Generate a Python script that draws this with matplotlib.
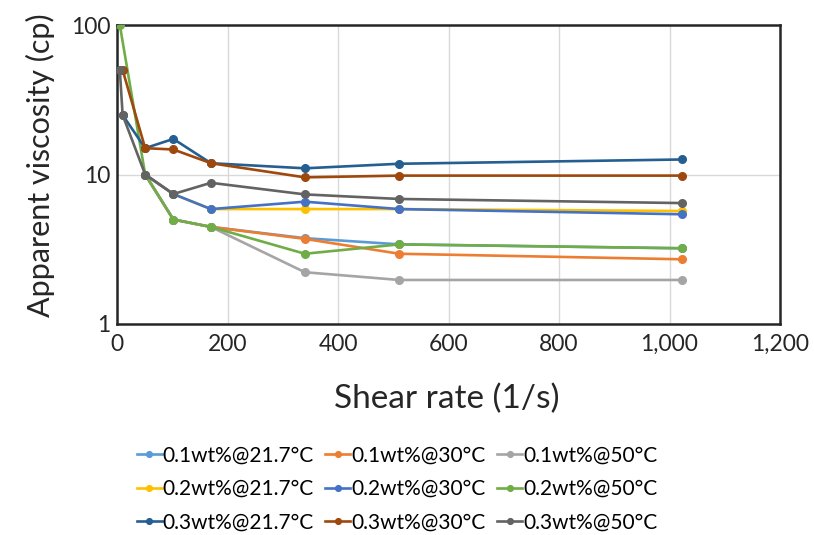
import matplotlib
matplotlib.use("Agg")
import matplotlib.pyplot as plt
from matplotlib.ticker import FuncFormatter, FixedLocator, NullLocator

plt.rcParams['font.family'] = ['Lato', 'DejaVu Sans']

# Shear rates (1/s) and apparent viscosities (cp); None = no point
shear_rates = [5.1, 10.2, 51, 102, 170, 340, 511, 1022]

labels = ["0.1wt%@21.7°C", "0.1wt%@30°C", "0.1wt%@50°C",
          "0.2wt%@21.7°C", "0.2wt%@30°C", "0.2wt%@50°C",
          "0.3wt%@21.7°C", "0.3wt%@30°C", "0.3wt%@50°C"]

visc_01_217 = [None, None, 10.0, 5.0, 4.46, 3.75, 3.41, 3.21]
visc_01_30 = [None, None, 10.0, 5.0, 4.46, 3.71, 2.95, 2.71]
visc_01_50 = [None, None, 10.0, 5.0, 4.46, 2.22, 1.97, 1.97]
visc_02_217 = [None, None, 10.0, 7.4, 5.87, 5.87, 5.87, 5.70]
visc_02_30 = [None, None, 10.0, 7.4, 5.87, 6.58, 5.87, 5.42]
visc_02_50 = [100.0, None, 10.0, 5.0, 4.46, 2.95, 3.41, 3.21]
visc_03_217 = [None, 25.0, 15.0, 17.3, 11.9, 11.0, 11.8, 12.6]
visc_03_30 = [50.0, 50.0, 15.0, 14.7, 11.9, 9.57, 9.83, 9.83]
visc_03_50 = [50.0, 25.0, 10.0, 7.4, 8.8, 7.36, 6.86, 6.44]

series = [visc_01_217, visc_01_30, visc_01_50,
          visc_02_217, visc_02_30, visc_02_50,
          visc_03_217, visc_03_30, visc_03_50]

colors = ["#5B9BD5", "#ED7D31", "#A5A5A5",
          "#FFC000", "#4472C4", "#70AD47",
          "#255E91", "#9E480E", "#636363"]

fig = plt.figure(figsize=(8.14, 5.35), dpi=100)
ax = fig.add_axes([117/814, 1-324/535, (780-117)/814, (324-25)/535])

handles = []
for vals, c, lab in zip(series, colors, labels):
    xs = [x for x, v in zip(shear_rates, vals) if v is not None]
    ys = [v for v in vals if v is not None]
    h, = ax.plot(xs, ys, color=c, lw=1.9, marker='o', ms=5.5, label=lab,
                 solid_joinstyle='round', zorder=3)
    handles.append(h)

ax.set_yscale('log')
ax.set_ylim(1, 100)
ax.set_xlim(0, 1200)
ax.yaxis.set_major_locator(FixedLocator([1, 10, 100]))
ax.yaxis.set_minor_locator(NullLocator())
ax.yaxis.set_major_formatter(FuncFormatter(lambda v, p: f"{v:g}"))
ax.xaxis.set_major_locator(FixedLocator(list(range(0, 1201, 200))))
ax.xaxis.set_major_formatter(FuncFormatter(lambda v, p: f"{int(v):,}"))

ax.grid(True, color='#D9D9D9', lw=1.0, zorder=0)
ax.set_axisbelow(True)
for s in ax.spines.values():
    s.set_color('#262626')
    s.set_linewidth(1.8)
ax.tick_params(axis='both', length=0, labelsize=16.5, colors='#262626')
ax.tick_params(axis='x', pad=7)
ax.tick_params(axis='y', pad=4.5)

ax.set_xlabel("Shear rate (1/s)", fontsize=24, color='#262626', va='top')
ax.xaxis.set_label_coords(0.497, (324-384)/299)
ax.set_ylabel("Apparent viscosity (cp)", fontsize=22, color='#262626')
ax.yaxis.set_label_coords((55-117)/663, (324-165)/299)

order = [0, 3, 6, 1, 4, 7, 2, 5, 8]
fig.legend([handles[i] for i in order], [labels[i] for i in order],
           ncol=3, loc='center', bbox_to_anchor=(397/814, 1-489/535),
           frameon=False, fontsize=15, handlelength=1.2, handletextpad=0.05,
           columnspacing=0.55, labelspacing=0.66, markerscale=0.75,
           borderpad=0.2)

fig.savefig("out.png", dpi=100)
